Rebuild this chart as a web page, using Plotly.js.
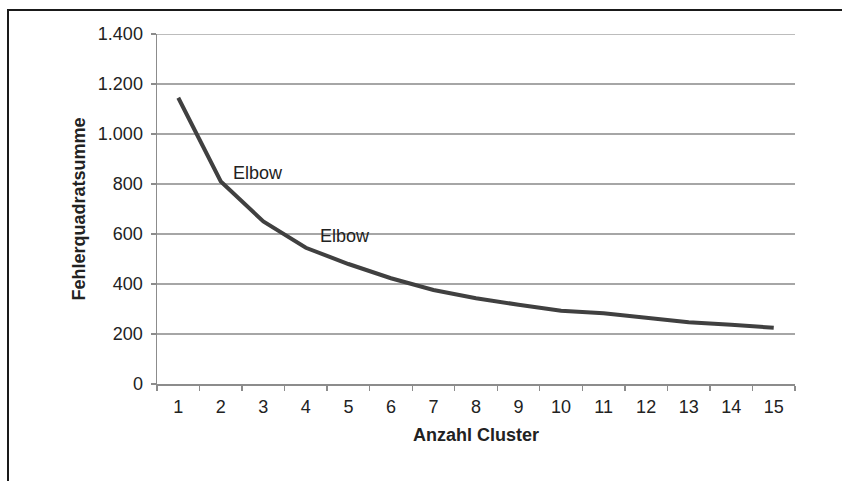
<!DOCTYPE html>
<html>
<head>
<meta charset="utf-8">
<script src="https://cdn.plot.ly/plotly-3.0.1.min.js"></script>
<style>
  html, body { margin: 0; padding: 0; background: #fff; }
  #wrap { position: relative; width: 842px; height: 481px; }
  #chart { position: absolute; left: 0; top: 0; width: 842px; height: 481px; }
  #frame { position: absolute; left: 7px; top: 9px; right: 0; bottom: -5px;
           border-top: 2px solid #1a1a1a; border-left: 2px solid #1a1a1a; pointer-events: none; }
</style>
</head>
<body>
<div id="wrap">
  <div id="chart"></div>
  <div id="frame"></div>
</div>
<script>
const clusters = ['1','2','3','4','5','6','7','8','9','10','11','12','13','14','15'];
const sse = [1145, 810, 650, 545, 480, 423, 376, 343, 317, 293, 283, 265, 247, 237, 225];
const yTicks = [0, 200, 400, 600, 800, 1000, 1200, 1400];
const elbowLabel = 'Elbow';
const elbowIdx = [1, 3];
const xTitle = 'Anzahl Cluster';
const yTitle = 'Fehlerquadratsumme';

const font = 'Liberation Sans, Arial, sans-serif';
const fs = 18;
const gridColor = '#a6a6a6';

const trace = {
  x: clusters,
  y: sse,
  type: 'scatter',
  mode: 'lines',
  line: { color: '#404040', width: 4 },
  hoverinfo: 'skip'
};

const shifts = [[10, 9], [12, 12]];
const annotations = elbowIdx.map((i, k) => ({
  x: i, y: sse[i], xref: 'x', yref: 'y',
  text: elbowLabel, showarrow: false,
  xanchor: 'left', yanchor: 'middle',
  xshift: shifts[k][0], yshift: shifts[k][1],
  font: { family: font, size: fs, color: '#222' }
}));

const yMax = yTicks[yTicks.length - 1];

const layout = {
  width: 842, height: 481,
  margin: { l: 157, r: 47, t: 34, b: 97, pad: 0 },
  paper_bgcolor: '#fff', plot_bgcolor: '#fff',
  separators: ',.',
  showlegend: false,
  font: { family: font, size: fs, color: '#222' },
  xaxis: {
    type: 'category',
    range: [-0.5, 14.5],
    tickson: 'boundaries',
    ticks: 'outside', ticklen: 5, tickcolor: '#8c8c8c', tickwidth: 1.3,
    ticklabelstandoff: 6,
    showgrid: false, zeroline: false,
    showline: true, linecolor: '#8c8c8c', linewidth: 1.5,
    tickfont: { family: font, size: fs, color: '#222' },
    title: { text: xTitle, font: { family: font, size: fs, color: '#222', weight: 'bold' }, standoff: 12 },
    fixedrange: true
  },
  yaxis: {
    range: [0, yMax],
    tickvals: yTicks,
    tickformat: ',d',
    ticks: 'outside', ticklen: 5, tickcolor: '#8c8c8c', tickwidth: 1.3,
    ticklabelstandoff: 4,
    showgrid: true, gridcolor: gridColor, gridwidth: 1.3,
    zeroline: false,
    showline: true, linecolor: '#8c8c8c', linewidth: 1.5,
    tickfont: { family: font, size: fs, color: '#222' },
    title: { text: yTitle, font: { family: font, size: fs, color: '#222', weight: 'bold' }, standoff: 7 },
    fixedrange: true
  },
  shapes: [{
    type: 'line', xref: 'paper', yref: 'y',
    x0: 0, x1: 1, y0: yMax, y1: yMax,
    line: { color: gridColor, width: 1.3 }, layer: 'below'
  }],
  annotations: annotations
};

Plotly.newPlot('chart', [trace], layout, { displayModeBar: false, staticPlot: true });
</script>
</body>
</html>
